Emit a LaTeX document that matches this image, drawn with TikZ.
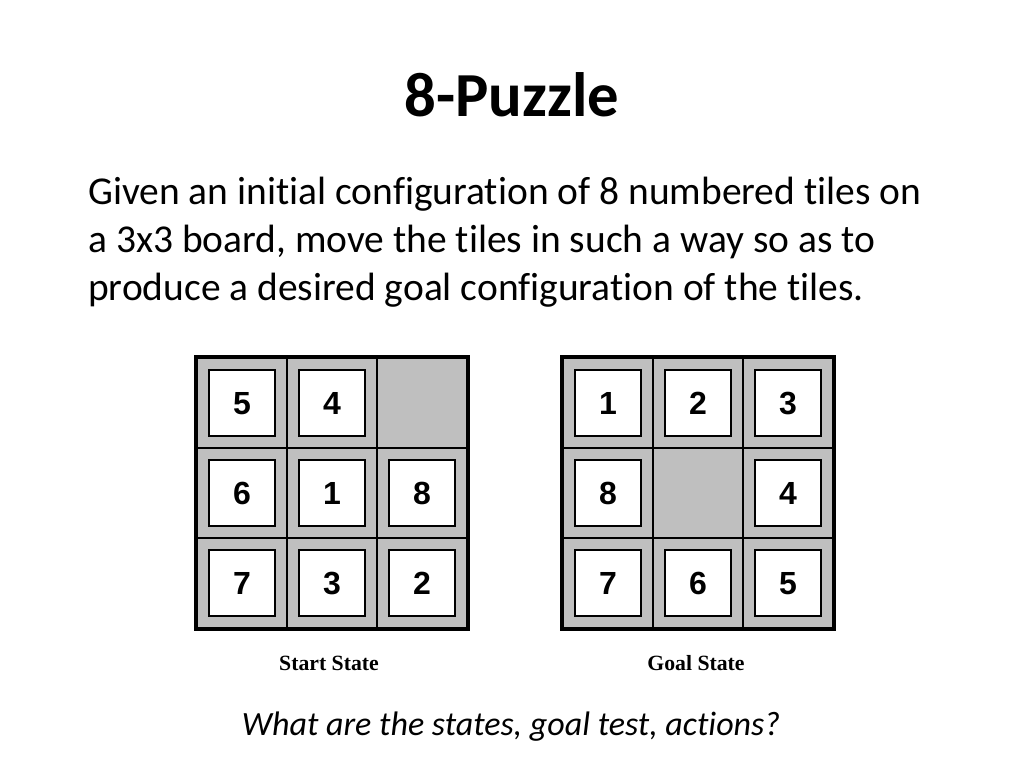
\documentclass[tikz,border=0pt]{standalone}
\usepackage{fontspec}
\setmainfont{Carlito}[Ligatures=NoCommon]
\newfontfamily\tilefont{Liberation Sans}
\newfontfamily\capfont{Liberation Serif}
\usetikzlibrary{positioning}
\colorlet{cellgray}{black!25}
\tikzset{
  cell/.style={draw=black, fill=cellgray, line width=2.2pt, minimum size=67.5pt, inner sep=0pt},
  tile/.style={draw=black, fill=white, line width=1.4pt, minimum size=49pt, inner sep=0pt,
    text height=16.5pt, text depth=0pt,
    font=\tilefont\bfseries\fontsize{24}{24}\selectfont},
  statecap/.style={font=\capfont\bfseries\fontsize{16.3}{16.3}\selectfont, anchor=base},
}
% one 3x3 board: name, left edge, tiles (0 = blank)
\newcommand\puzzleboard[3]{%
  \foreach \t [count=\i from 0] in {#3} {
    \pgfmathtruncatemacro\col{mod(\i,3)}
    \pgfmathtruncatemacro\row{div(\i,3)}
    \node[cell] (#1-\i) at ({#2+45+90*\col},{403+90*\row}) {};
    \ifnum\t=0 \else
      \node[tile] (#1-t\i) at (#1-\i) {\t};
    \fi
  }
  \draw[line width=2.6pt] (#1-0.north west) rectangle (#1-8.south east);
}
\begin{document}
\begin{tikzpicture}[x=0.75pt,y=-0.75pt]
\useasboundingbox[fill=white] (0,0) rectangle (1024,768);
\node[font=\bfseries\fontsize{47}{47}\selectfont, anchor=base] (title) at (512,116) {8-Puzzle};
\node[font=\fontsize{29.6}{36}\selectfont, anchor=base west, align=left, inner sep=0pt] (intro) at (88,300)
  {Given an initial configuration of 8 numbered tiles on\\
   a 3x3 board, move the tiles in such a way so as to\\
   produce a desired goal configuration of the tiles.};
\puzzleboard{s}{197}{5,4,0,6,1,8,7,3,2}
\puzzleboard{g}{563}{1,2,3,8,0,4,7,6,5}
\node[statecap] (startcap) at (329,670) {Start State};
\node[statecap] (goalcap) at (696,670) {Goal State};
\node[font=\itshape\fontsize{25.5}{25.5}\selectfont, anchor=base] (question) at (511,735)
  {What are the states, goal test, actions?};
\end{tikzpicture}
\end{document}
